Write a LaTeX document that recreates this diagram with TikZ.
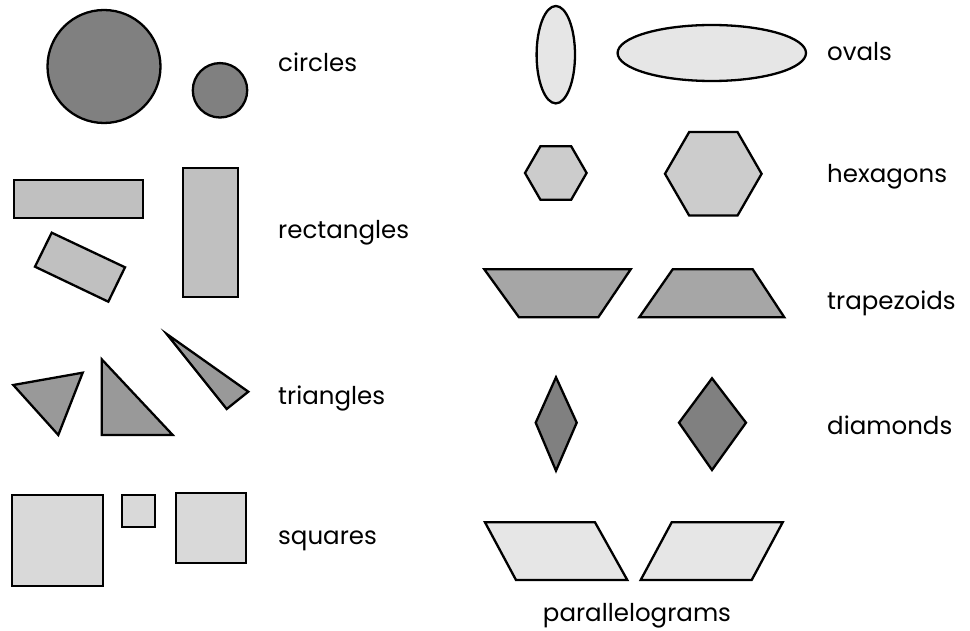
\documentclass[tikz,border=0pt]{standalone}
\usepackage{fontspec}
\setmainfont{Poppins}
\definecolor{cDark}{gray}{0.502}
\definecolor{cRect}{gray}{0.753}
\definecolor{cTri}{gray}{0.6}
\definecolor{cSq}{gray}{0.851}
\definecolor{cOval}{gray}{0.902}
\definecolor{cHex}{gray}{0.8}
\definecolor{cTrap}{gray}{0.651}
\tikzset{
  shp/.style={draw=black, line width=2.3pt, line join=miter},
  lbl/.style={anchor=base west, inner sep=0pt, font=\fontsize{24.5}{28}\selectfont},
}
\begin{document}
\begin{tikzpicture}[x=1pt,y=-1pt]
\useasboundingbox (0,0) rectangle (970,631);
% circles
\draw[shp, fill=cDark] (104,66.5) circle (56.5);
\draw[shp, fill=cDark] (220,90.3) circle (27.2);
% rectangles
\draw[shp, fill=cRect] (14,180) rectangle (143.3,217.7);
\draw[shp, fill=cRect] (183.3,167.7) rectangle (238,296.7);
\draw[shp, fill=cRect] (51.7,232.7) -- (125,267.3) -- (108.3,301.7) -- (35,266.7) -- cycle;
% triangles
\draw[shp, fill=cTri] (13.3,385) -- (82.7,372.7) -- (58.3,435) -- cycle;
\draw[shp, fill=cTri] (101.7,359.3) -- (172.7,435) -- (101.7,435) -- cycle;
\draw[shp, fill=cTri] (166.7,334) -- (248.3,391.7) -- (226.7,409) -- cycle;
% squares
\draw[shp, fill=cSq] (11.7,495) rectangle (103.3,586);
\draw[shp, fill=cSq] (122.3,495) rectangle (155,527.3);
\draw[shp, fill=cSq] (175.7,493.3) rectangle (245.7,563);
% ovals
\draw[shp, fill=cOval] (555.8,54.7) ellipse [x radius=19.2, y radius=48.7];
\draw[shp, fill=cOval] (711.8,53) ellipse [x radius=94.2, y radius=28];
% hexagons
\draw[shp, fill=cHex] (586.6,173) -- (571.2,146.3) -- (540.4,146.3) -- (525,173) -- (540.4,199.7) -- (571.2,199.7) -- cycle;
\draw[shp, fill=cHex] (761.6,173.8) -- (737.5,132) -- (689.2,132) -- (665,173.8) -- (689.2,215.6) -- (737.5,215.6) -- cycle;
% trapezoids
\draw[shp, fill=cTrap] (484.3,269.3) -- (630.7,269.3) -- (598.3,317.3) -- (519,317.3) -- cycle;
\draw[shp, fill=cTrap] (672.7,269.3) -- (752.7,269.3) -- (784.3,317.3) -- (639.3,317.3) -- cycle;
% diamonds
\draw[shp, fill=cDark] (556,377.3) -- (576.7,422.7) -- (556,470.7) -- (535.7,422.7) -- cycle;
\draw[shp, fill=cDark] (712,378.3) -- (746,422.7) -- (712,470) -- (679,422.7) -- cycle;
% parallelograms
\draw[shp, fill=cOval] (485,522.3) -- (595,522.3) -- (627.3,580) -- (516,580) -- cycle;
\draw[shp, fill=cOval] (671.7,522.3) -- (782.7,522.3) -- (751.7,580) -- (640.7,580) -- cycle;
% labels
\node[lbl] (tcircles) at (278,71.5) {circles};
\node[lbl] (trect) at (278,239) {rectangles};
\node[lbl] (ttri) at (278,404) {triangles};
\node[lbl] (tsq) at (278,544) {squares};
\node[lbl] (tovals) at (827,61) {ovals};
\node[lbl] (thex) at (827,183) {hexagons};
\node[lbl] (ttrap) at (827,309) {trapezoids};
\node[lbl] (tdia) at (827,434) {diamonds};
\node[lbl, anchor=base] (tpar) at (637,621) {parallelograms};
\end{tikzpicture}
\end{document}
